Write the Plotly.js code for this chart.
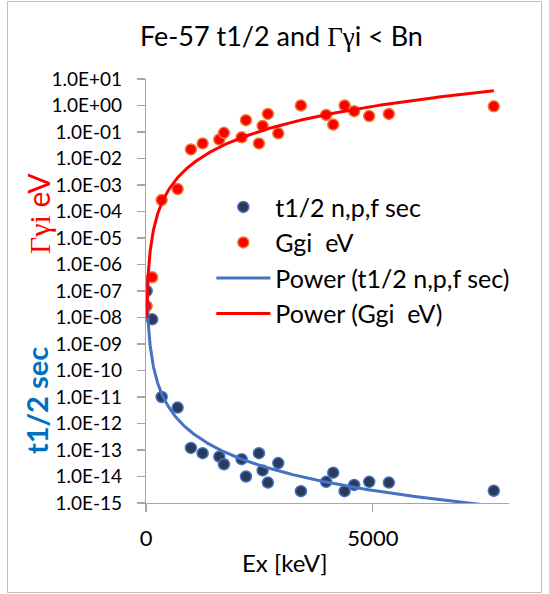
<!DOCTYPE html>
<html>
<head>
<meta charset="utf-8">
<script src="https://cdn.plot.ly/plotly-3.0.1.min.js"></script>
<style>
  html, body { margin: 0; padding: 0; background: #ffffff; }
  #wrap { position: relative; width: 549px; height: 594px; }
  #chart { position: absolute; left: 0; top: 0; width: 549px; height: 594px; }
  #frame { position: absolute; left: 7px; top: 1px; width: 533px; height: 590px;
           border: 1.5px solid #BFBFBF; pointer-events: none; }
</style>
</head>
<body>
<div id="wrap">
  <div id="chart"></div>
  <div id="frame"></div>
</div>
<script>
// Excitation energies (keV) of the levels
const exKeV = [14.4, 136, 345, 697, 990, 1248, 1615, 1718, 2107, 2203, 2489, 2570, 2687, 2915, 3414, 3970, 4126, 4377, 4588, 4919, 5352, 7665];
// Half-lives t1/2 (sec)
const halfLife = [1.0e-7, 8.5e-9, 1.0e-11, 4.0e-12, 1.2e-13, 7.6e-14, 5.6e-14, 2.9e-14, 4.5e-14, 1.0e-14, 7.6e-14, 1.7e-14, 5.9e-15, 3.2e-14, 2.8e-15, 6.3e-15, 1.4e-14, 2.8e-15, 4.8e-15, 6.3e-15, 5.9e-15, 2.9e-15];
// Gamma widths Ggi (eV)
const gammaWidth = [2.7e-8, 3.3e-7, 2.7e-4, 7.0e-4, 2.2e-2, 3.7e-2, 5.2e-2, 9.3e-2, 6.3e-2, 2.8e-1, 3.7e-2, 1.7e-1, 4.8e-1, 8.9e-2, 1.0, 4.4e-1, 1.9e-1, 1.0, 6.1e-1, 4.0e-1, 4.8e-1, 9.3e-1];

const yTickVals = [1e1, 1e0, 1e-1, 1e-2, 1e-3, 1e-4, 1e-5, 1e-6, 1e-7, 1e-8, 1e-9, 1e-10, 1e-11, 1e-12, 1e-13, 1e-14, 1e-15];
const yTickText = ["1.0E+01", "1.0E+00", "1.0E-01", "1.0E-02", "1.0E-03", "1.0E-04", "1.0E-05", "1.0E-06", "1.0E-07", "1.0E-08", "1.0E-09", "1.0E-10", "1.0E-11", "1.0E-12", "1.0E-13", "1.0E-14", "1.0E-15"];
const xTickVals = [0, 5000];
const xTickText = ["0", "5000"];

// Power-law trendline y = a*x^b, least squares in log-log space (as a spreadsheet does)
function powerFit(xs, ys) {
  const lx = xs.map(Math.log), ly = ys.map(Math.log);
  const n = lx.length;
  const mx = lx.reduce((s, v) => s + v, 0) / n;
  const my = ly.reduce((s, v) => s + v, 0) / n;
  let sxy = 0, sxx = 0;
  for (let i = 0; i < n; i++) { sxy += (lx[i] - mx) * (ly[i] - my); sxx += (lx[i] - mx) ** 2; }
  const b = sxy / sxx;
  const a = Math.exp(my - b * mx);
  return { a, b };
}
function fitCurve(xs, ys) {
  const f = powerFit(xs, ys);
  const x0 = Math.min(...xs), x1 = Math.max(...xs);
  const cx = [], cy = [];
  const N = 400;
  for (let i = 0; i <= N; i++) {
    const x = x0 * Math.pow(x1 / x0, i / N);
    cx.push(x); cy.push(f.a * Math.pow(x, f.b));
  }
  return { cx, cy };
}
const tFit = fitCurve(exKeV, halfLife);
const gFit = fitCurve(exKeV, gammaWidth);

const FONT = "Lato, 'Open Sans', sans-serif";
const SERIF = "'Liberation Serif', 'DejaVu Serif', serif";

const traces = [
  { x: exKeV, y: halfLife, type: 'scatter', mode: 'markers', name: 't1/2 n,p,f sec',
    legendgroup: 'a',
    marker: { color: '#2B3A57', size: 11, line: { color: '#4472C4', width: 1.5 } } },
  { x: exKeV, y: gammaWidth, type: 'scatter', mode: 'markers', name: 'Ggi\u00A0 eV',
    legendgroup: 'b',
    marker: { color: '#FF0000', size: 11, line: { color: '#ED7D31', width: 1.5 } } },
  { x: tFit.cx, y: tFit.cy, type: 'scatter', mode: 'lines', name: 'Power (t1/2 n,p,f sec)',
    legendgroup: 'c',
    line: { color: '#4472C4', width: 3 } },
  { x: gFit.cx, y: gFit.cy, type: 'scatter', mode: 'lines', name: 'Power (Ggi\u00A0 eV)',
    legendgroup: 'd',
    line: { color: '#FF0000', width: 3 } }
];

const layout = {
  width: 549, height: 594,
  paper_bgcolor: '#ffffff', plot_bgcolor: '#ffffff',
  margin: { l: 146, r: 40, t: 79, b: 91, pad: 0 },
  font: { family: FONT, color: '#000000' },
  title: { text: "Fe-57 t1/2 and <span style=\"font-family:" + SERIF.replace(/"/g, "'") + "\">Γγ</span>i &lt; Bn",
           font: { family: FONT, size: 27, color: '#000000' },
           xref: 'paper', x: 0.373, xanchor: 'center',
           yref: 'container', y: 1 - 37 / 594, yanchor: 'middle' },
  xaxis: { range: [0, 8000], tickvals: xTickVals, ticktext: xTickText,
           showgrid: false, zeroline: false, showline: true, linecolor: '#A6A6A6', linewidth: 1.2,
           ticks: 'outside', ticklen: 8, tickcolor: '#A6A6A6', tickwidth: 1.2,
           tickfont: { family: FONT, size: 22, color: '#000000' }, ticklabelstandoff: 7 },
  yaxis: { type: 'log', range: [-15, 1], tickvals: yTickVals, ticktext: yTickText,
           showgrid: false, zeroline: false, showline: true, linecolor: '#A6A6A6', linewidth: 1.2,
           ticks: 'outside', ticklen: 8, tickcolor: '#A6A6A6', tickwidth: 1.2,
           tickfont: { family: FONT, size: 19, color: '#000000' }, ticklabelstandoff: 11 },
  legend: { x: 0.18, y: 0.752, xanchor: 'left', yanchor: 'top', bgcolor: 'rgba(0,0,0,0)',
            font: { family: FONT, size: 25, color: '#000000' }, tracegroupgap: 0,
            itemwidth: 54 },
  showlegend: true,
  annotations: [
    { text: "<span style=\"font-family:" + SERIF.replace(/"/g, "'") + "\">Γγi</span> eV",
      xref: 'paper', yref: 'paper', x: (38 - 146) / 363, y: (503 - 214) / 424,
      xanchor: 'center', yanchor: 'middle', textangle: -90, showarrow: false,
      font: { family: FONT, size: 30, color: '#FF0000' } },
    { text: "<b>t1/2 sec</b>",
      xref: 'paper', yref: 'paper', x: (36 - 146) / 363, y: (503 - 401) / 424,
      xanchor: 'center', yanchor: 'middle', textangle: -90, showarrow: false,
      font: { family: FONT, size: 29, color: '#0070C0' } },
    { text: "Ex [keV]",
      xref: 'paper', yref: 'paper', x: (284 - 146) / 363, y: (503 - 562) / 424,
      xanchor: 'center', yanchor: 'middle', showarrow: false,
      font: { family: FONT, size: 24, color: '#000000' } }
  ]
};

Plotly.newPlot('chart', traces, layout, { displayModeBar: false, staticPlot: true });
</script>
</body>
</html>
